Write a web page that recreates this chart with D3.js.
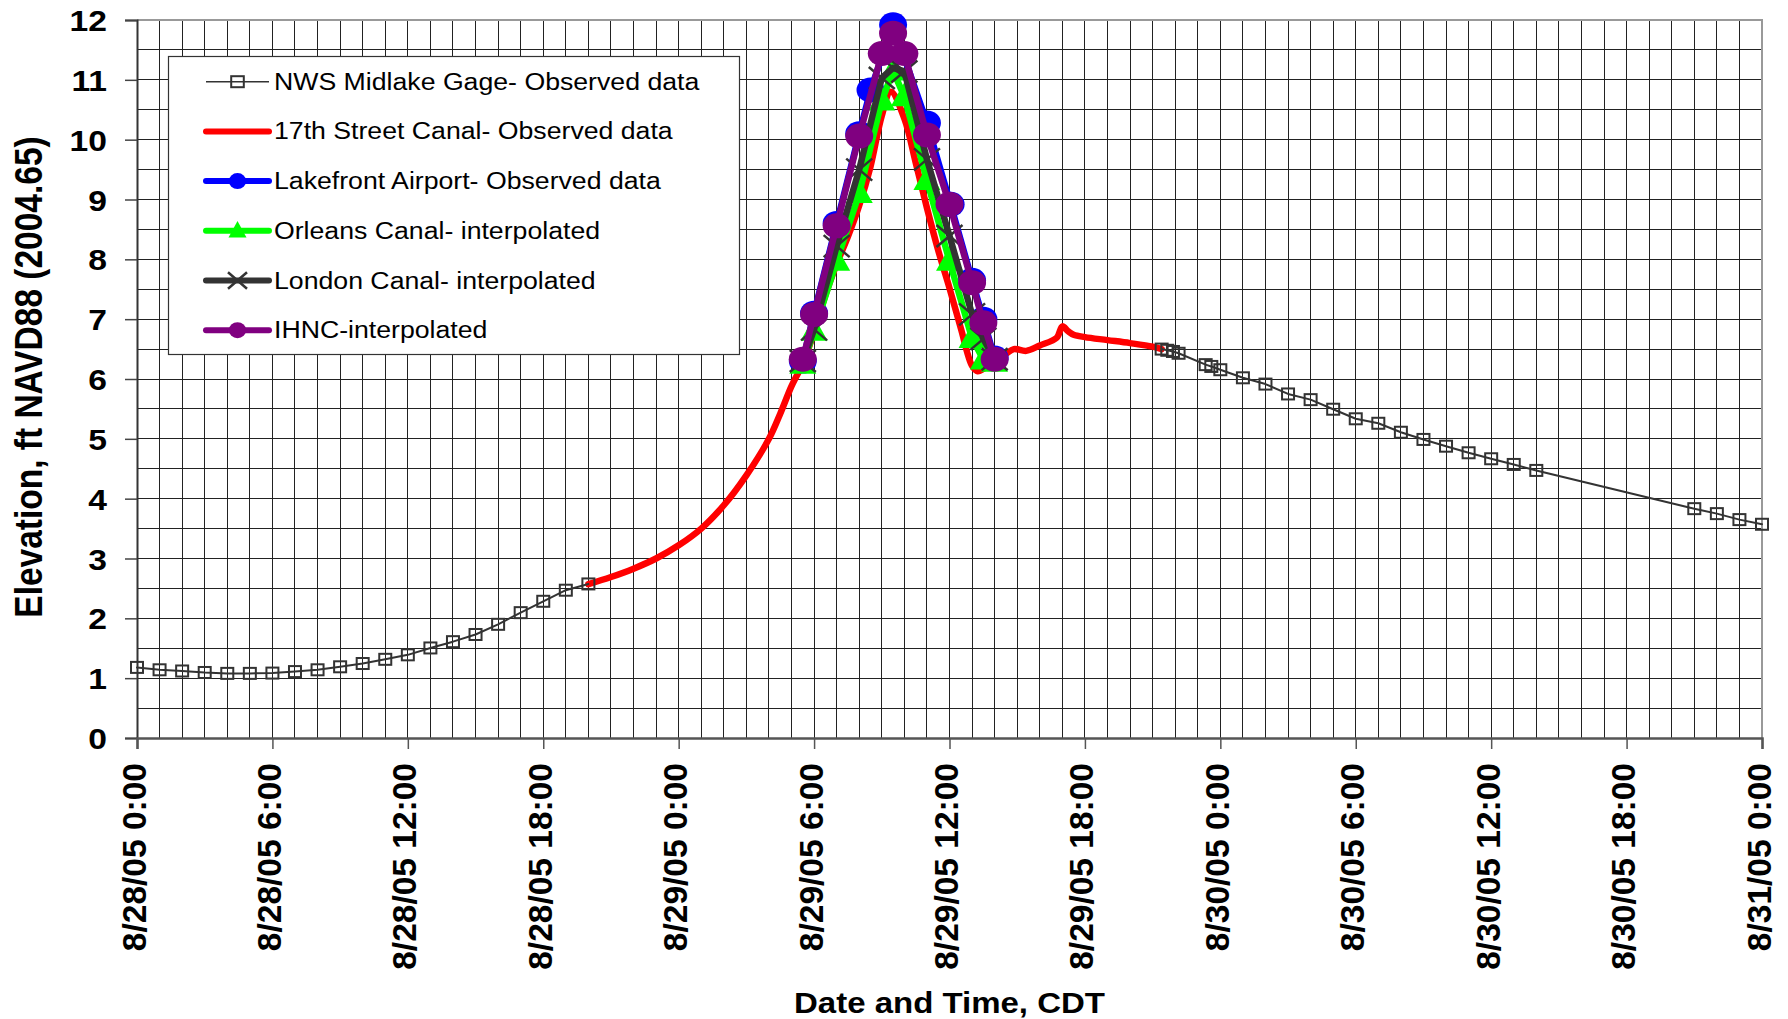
<!DOCTYPE html>
<html>
<head>
<meta charset="utf-8">
<script src="https://cdn.jsdelivr.net/npm/d3@7"></script>
<style>
  body { margin: 0; background: #fff; }
  svg { display: block; font-family: "Liberation Sans", Arial, sans-serif; }
</style>
</head>
<body>
<svg width="1788" height="1019"></svg>
<script>
// time is in hours after 8/28/05 0:00 CDT, elevation in ft NAVD88 (2004.65)

// NWS Midlake Gage - observed (null = gap in record)
const nwsHours = [0, 1, 2, 3, 4, 5, 6, 7, 8, 9, 10, 11, 12, 13, 14, 15, 16, 17, 18, 19, 20,
  21,
  45.4, 45.65, 45.9, 46.15, 47.35, 47.6, 48, 49, 50, 51, 52, 53, 54, 55, 56, 57, 58, 59, 60, 61, 62,
  69, 70, 71, 72];
const nwsElev = [1.18, 1.14, 1.12, 1.095, 1.08, 1.08, 1.085, 1.11, 1.14, 1.19, 1.245, 1.315, 1.39, 1.505, 1.61, 1.73, 1.9, 2.095, 2.285, 2.47, 2.575,
  null,
  6.5, 6.48, 6.46, 6.43, 6.24, 6.21, 6.155, 6.02, 5.915, 5.75, 5.655, 5.495, 5.335, 5.26, 5.11, 4.99, 4.877, 4.767, 4.667, 4.572, 4.472,
  3.833, 3.75, 3.65, 3.572];

// 17th Street Canal - observed
const canal17Hours = [20, 21, 22, 23, 24, 25, 26, 27, 28, 28.5, 29, 29.5, 30, 30.5, 31, 31.5, 32, 32.5, 33, 33.4,
  34, 34.5, 35, 35.5, 36, 36.5, 37, 37.25, 37.5, 38, 38.5, 38.85, 39.4, 40, 40.75, 41, 41.25, 41.5, 42, 43, 44, 45, 45.4];
const canal17Elev = [2.57, 2.69, 2.83, 3.0, 3.22, 3.5, 3.89, 4.39, 5.0, 5.42, 5.88, 6.26, 6.78, 7.4, 7.92, 8.38, 8.9, 9.55, 10.4, 10.8,
  10.35, 9.62, 8.86, 8.15, 7.52, 6.85, 6.22, 6.13, 6.17, 6.3, 6.42, 6.5, 6.47, 6.56, 6.69, 6.88, 6.8, 6.74, 6.7, 6.65, 6.6, 6.54, 6.5];

// Lakefront Airport - observed
const lakefrontHours = [29.5, 30, 31, 32, 32.5, 33.5, 35, 36.05, 37, 37.5, 38];
const lakefrontElev = [6.3, 7.1, 8.6, 10.1, 10.83, 11.92, 10.28, 8.92, 7.65, 7.0, 6.35];

// interpolated series share the same times
const interpHours = [29.5, 30, 31, 32, 33, 33.5, 34, 35, 36, 37, 37.5, 38];
const orleansElev = [6.25, 6.8, 7.97, 9.1, 10.65, 11.15, 10.72, 9.32, 7.97, 6.68, 6.32, 6.28];
const londonElev = [6.3, 6.83, 8.22, 9.5, 11.03, 11.2, 11.14, 9.67, 8.39, 7.08, 6.67, 6.33];
const ihncElev = [6.33, 7.08, 8.56, 10.06, 11.44, 11.78, 11.44, 10.08, 8.92, 7.61, 6.94, 6.33];

// axes
const yTicks = [0, 1, 2, 3, 4, 5, 6, 7, 8, 9, 10, 11, 12];
const xTickHours = [0, 6, 12, 18, 24, 30, 36, 42, 48, 54, 60, 66, 72];
const xTickLabels = ['8/28/05 0:00', '8/28/05 6:00', '8/28/05 12:00', '8/28/05 18:00',
  '8/29/05 0:00', '8/29/05 6:00', '8/29/05 12:00', '8/29/05 18:00',
  '8/30/05 0:00', '8/30/05 6:00', '8/30/05 12:00', '8/30/05 18:00', '8/31/05 0:00'];

const legendNames = ['NWS Midlake Gage- Observed data', '17th Street Canal- Observed data',
  'Lakefront Airport- Observed data', 'Orleans Canal- interpolated',
  'London Canal- interpolated', 'IHNC-interpolated'];

const svg = d3.select('svg');
const x = d3.scaleLinear().domain([0, 72]).range([137, 1762]);
const y = d3.scaleLinear().domain([0, 12]).range([738, 20]);

// grid lines: every hour and every half foot
const grid = svg.append('g').attr('shape-rendering', 'crispEdges');
grid.selectAll('.vgrid').data(d3.range(1, 72)).join('line')
  .attr('class', 'vgrid')
  .attr('x1', d => x(d)).attr('x2', d => x(d))
  .attr('y1', y(0)).attr('y2', y(12))
  .attr('stroke', '#222').attr('stroke-width', 1);
grid.selectAll('.hgrid').data(d3.range(0.5, 12, 0.5)).join('line')
  .attr('class', 'hgrid')
  .attr('x1', x(0)).attr('x2', x(72))
  .attr('y1', d => y(d)).attr('y2', d => y(d))
  .attr('stroke', '#222').attr('stroke-width', 1);

// top and right border
svg.append('path')
  .attr('d', `M${x(0)},${y(12)}H${x(72)}V${y(0)}`)
  .attr('fill', 'none').attr('stroke', '#999').attr('stroke-width', 2);

// axes
const yAxis = svg.append('g')
  .attr('transform', `translate(${x(0)},0)`)
  .call(d3.axisLeft(y).tickValues(yTicks).tickSize(12).tickFormat(d3.format('d')));
yAxis.select('.domain').attr('stroke', '#333').attr('stroke-width', 2);
yAxis.selectAll('.tick line').attr('stroke', '#444').attr('stroke-width', 1.5);
yAxis.selectAll('.tick text')
  .attr('x', null).attr('dy', null)
  .attr('transform', 'translate(-30,10.5) scale(1.16,1)')
  .attr('text-anchor', 'end')
  .attr('fill', '#000')
  .style('font-size', '29px').style('font-weight', 'bold')
  .style('font-family', '"Liberation Sans", Arial, sans-serif');

const xAxis = svg.append('g')
  .attr('transform', `translate(0,${y(0)})`)
  .call(d3.axisBottom(x).tickValues(xTickHours).tickSize(11)
    .tickFormat((d, i) => xTickLabels[i]));
xAxis.select('.domain').attr('stroke', '#555').attr('stroke-width', 2.5);
xAxis.selectAll('.tick line').attr('stroke', '#555').attr('stroke-width', 1.5);
xAxis.selectAll('.tick text')
  .attr('y', null).attr('dy', null)
  .attr('transform', 'translate(8,25) rotate(-90)')
  .attr('text-anchor', 'end')
  .attr('fill', '#000')
  .style('font-size', '33.5px').style('font-weight', 'bold')
  .style('font-family', '"Liberation Sans", Arial, sans-serif');

// axis titles
svg.append('text')
  .attr('transform', 'translate(42,377) scale(1.17,1) rotate(-90)')
  .attr('text-anchor', 'middle')
  .style('font-size', '33.5px').style('font-weight', 'bold')
  .text('Elevation, ft NAVD88 (2004.65)');
svg.append('text')
  .attr('transform', `translate(${(x(0) + x(72)) / 2},1013) scale(1.1,1)`)
  .attr('text-anchor', 'middle')
  .style('font-size', '30px').style('font-weight', 'bold')
  .text('Date and Time, CDT');

// marker helpers
function square(g, cx, cy, w, h, color) {
  g.append('rect').attr('x', cx - w / 2).attr('y', cy - h / 2)
    .attr('width', w).attr('height', h)
    .attr('fill', 'none').attr('stroke', color).attr('stroke-width', 2);
}
function dot(g, cx, cy, rx, ry, color) {
  g.append('ellipse').attr('cx', cx).attr('cy', cy).attr('rx', rx).attr('ry', ry).attr('fill', color);
}
function tri(g, cx, cy, w, h, color) {
  g.append('path')
    .attr('d', `M${cx},${cy - h * 0.6}L${cx + w / 2},${cy + h * 0.4}L${cx - w / 2},${cy + h * 0.4}Z`)
    .attr('fill', color);
}
function cross(g, cx, cy, hw, hh, color) {
  g.append('path')
    .attr('d', `M${cx - hw},${cy - hh}L${cx + hw},${cy + hh}M${cx - hw},${cy + hh}L${cx + hw},${cy - hh}`)
    .attr('stroke', color).attr('stroke-width', 2.5).attr('fill', 'none');
}

const lineGen = d3.line()
  .defined(d => d[1] != null)
  .x(d => x(d[0])).y(d => y(d[1]));

function drawSeries(hours, elev, color, width, curve) {
  const pts = hours.map((h, i) => [h, elev[i]]);
  svg.append('path')
    .datum(pts)
    .attr('d', lineGen.curve(curve || d3.curveLinear))
    .attr('fill', 'none').attr('stroke', color).attr('stroke-width', width)
    .attr('stroke-linejoin', 'round').attr('stroke-linecap', 'round');
  return pts.filter(d => d[1] != null);
}

// 17th Street Canal (smoothed, no markers)
drawSeries(canal17Hours, canal17Elev, '#ff0000', 6.5, d3.curveCatmullRom.alpha(0.5));

// NWS gage
const nwsPts = drawSeries(nwsHours, nwsElev, '#333', 2);
const nwsG = svg.append('g');
nwsPts.forEach(d => square(nwsG, x(d[0]), y(d[1]), 12, 11, '#333'));

// Lakefront Airport
const lakePts = drawSeries(lakefrontHours, lakefrontElev, '#0000ff', 6.5);
const lakeG = svg.append('g');
lakePts.forEach(d => dot(lakeG, x(d[0]), y(d[1]), 14, 12.5, '#0000ff'));

// Orleans Canal
const orlPts = drawSeries(interpHours, orleansElev, '#00ff00', 6.5);
const orlG = svg.append('g');
orlPts.forEach(d => tri(orlG, x(d[0]), y(d[1]), 27, 24, '#00ff00'));

// London Canal
const lonPts = drawSeries(interpHours, londonElev, '#333', 6.5);
const lonG = svg.append('g');
lonPts.forEach(d => cross(lonG, x(d[0]), y(d[1]), 13, 11, '#333'));

// IHNC
const ihPts = drawSeries(interpHours, ihncElev, '#800080', 6.5);
const ihG = svg.append('g');
ihPts.forEach(d => dot(ihG, x(d[0]), y(d[1]), 14, 12.5, '#800080'));

// legend
const legend = svg.append('g');
legend.append('rect')
  .attr('x', 168.5).attr('y', 56.5).attr('width', 571).attr('height', 298)
  .attr('fill', '#fff').attr('stroke', '#333').attr('stroke-width', 1.2);

const legendColors = ['#333', '#ff0000', '#0000ff', '#00ff00', '#333', '#800080'];
legendNames.forEach((name, i) => {
  const cy = 81.7 + i * 49.7;
  const g = legend.append('g');
  g.append('line').attr('x1', 206).attr('x2', 269).attr('y1', cy).attr('y2', cy)
    .attr('stroke', legendColors[i]).attr('stroke-width', i === 0 ? 1.6 : 6)
    .attr('stroke-linecap', i === 0 ? 'butt' : 'round');
  if (i === 0) square(g, 237.5, cy, 12.6, 11, '#333');
  if (i === 2) dot(g, 237.5, cy, 8.7, 8, '#0000ff');
  if (i === 3) tri(g, 237.5, cy, 18, 16.5, '#00ff00');
  if (i === 4) cross(g, 237.5, cy, 9.5, 8.3, '#333');
  if (i === 5) dot(g, 237.5, cy, 8.7, 8, '#800080');
  g.append('text')
    .attr('transform', `translate(274,${cy + 8}) scale(1.16,1)`)
    .style('font-size', '23px')
    .text(name);
});
</script>
</body>
</html>
